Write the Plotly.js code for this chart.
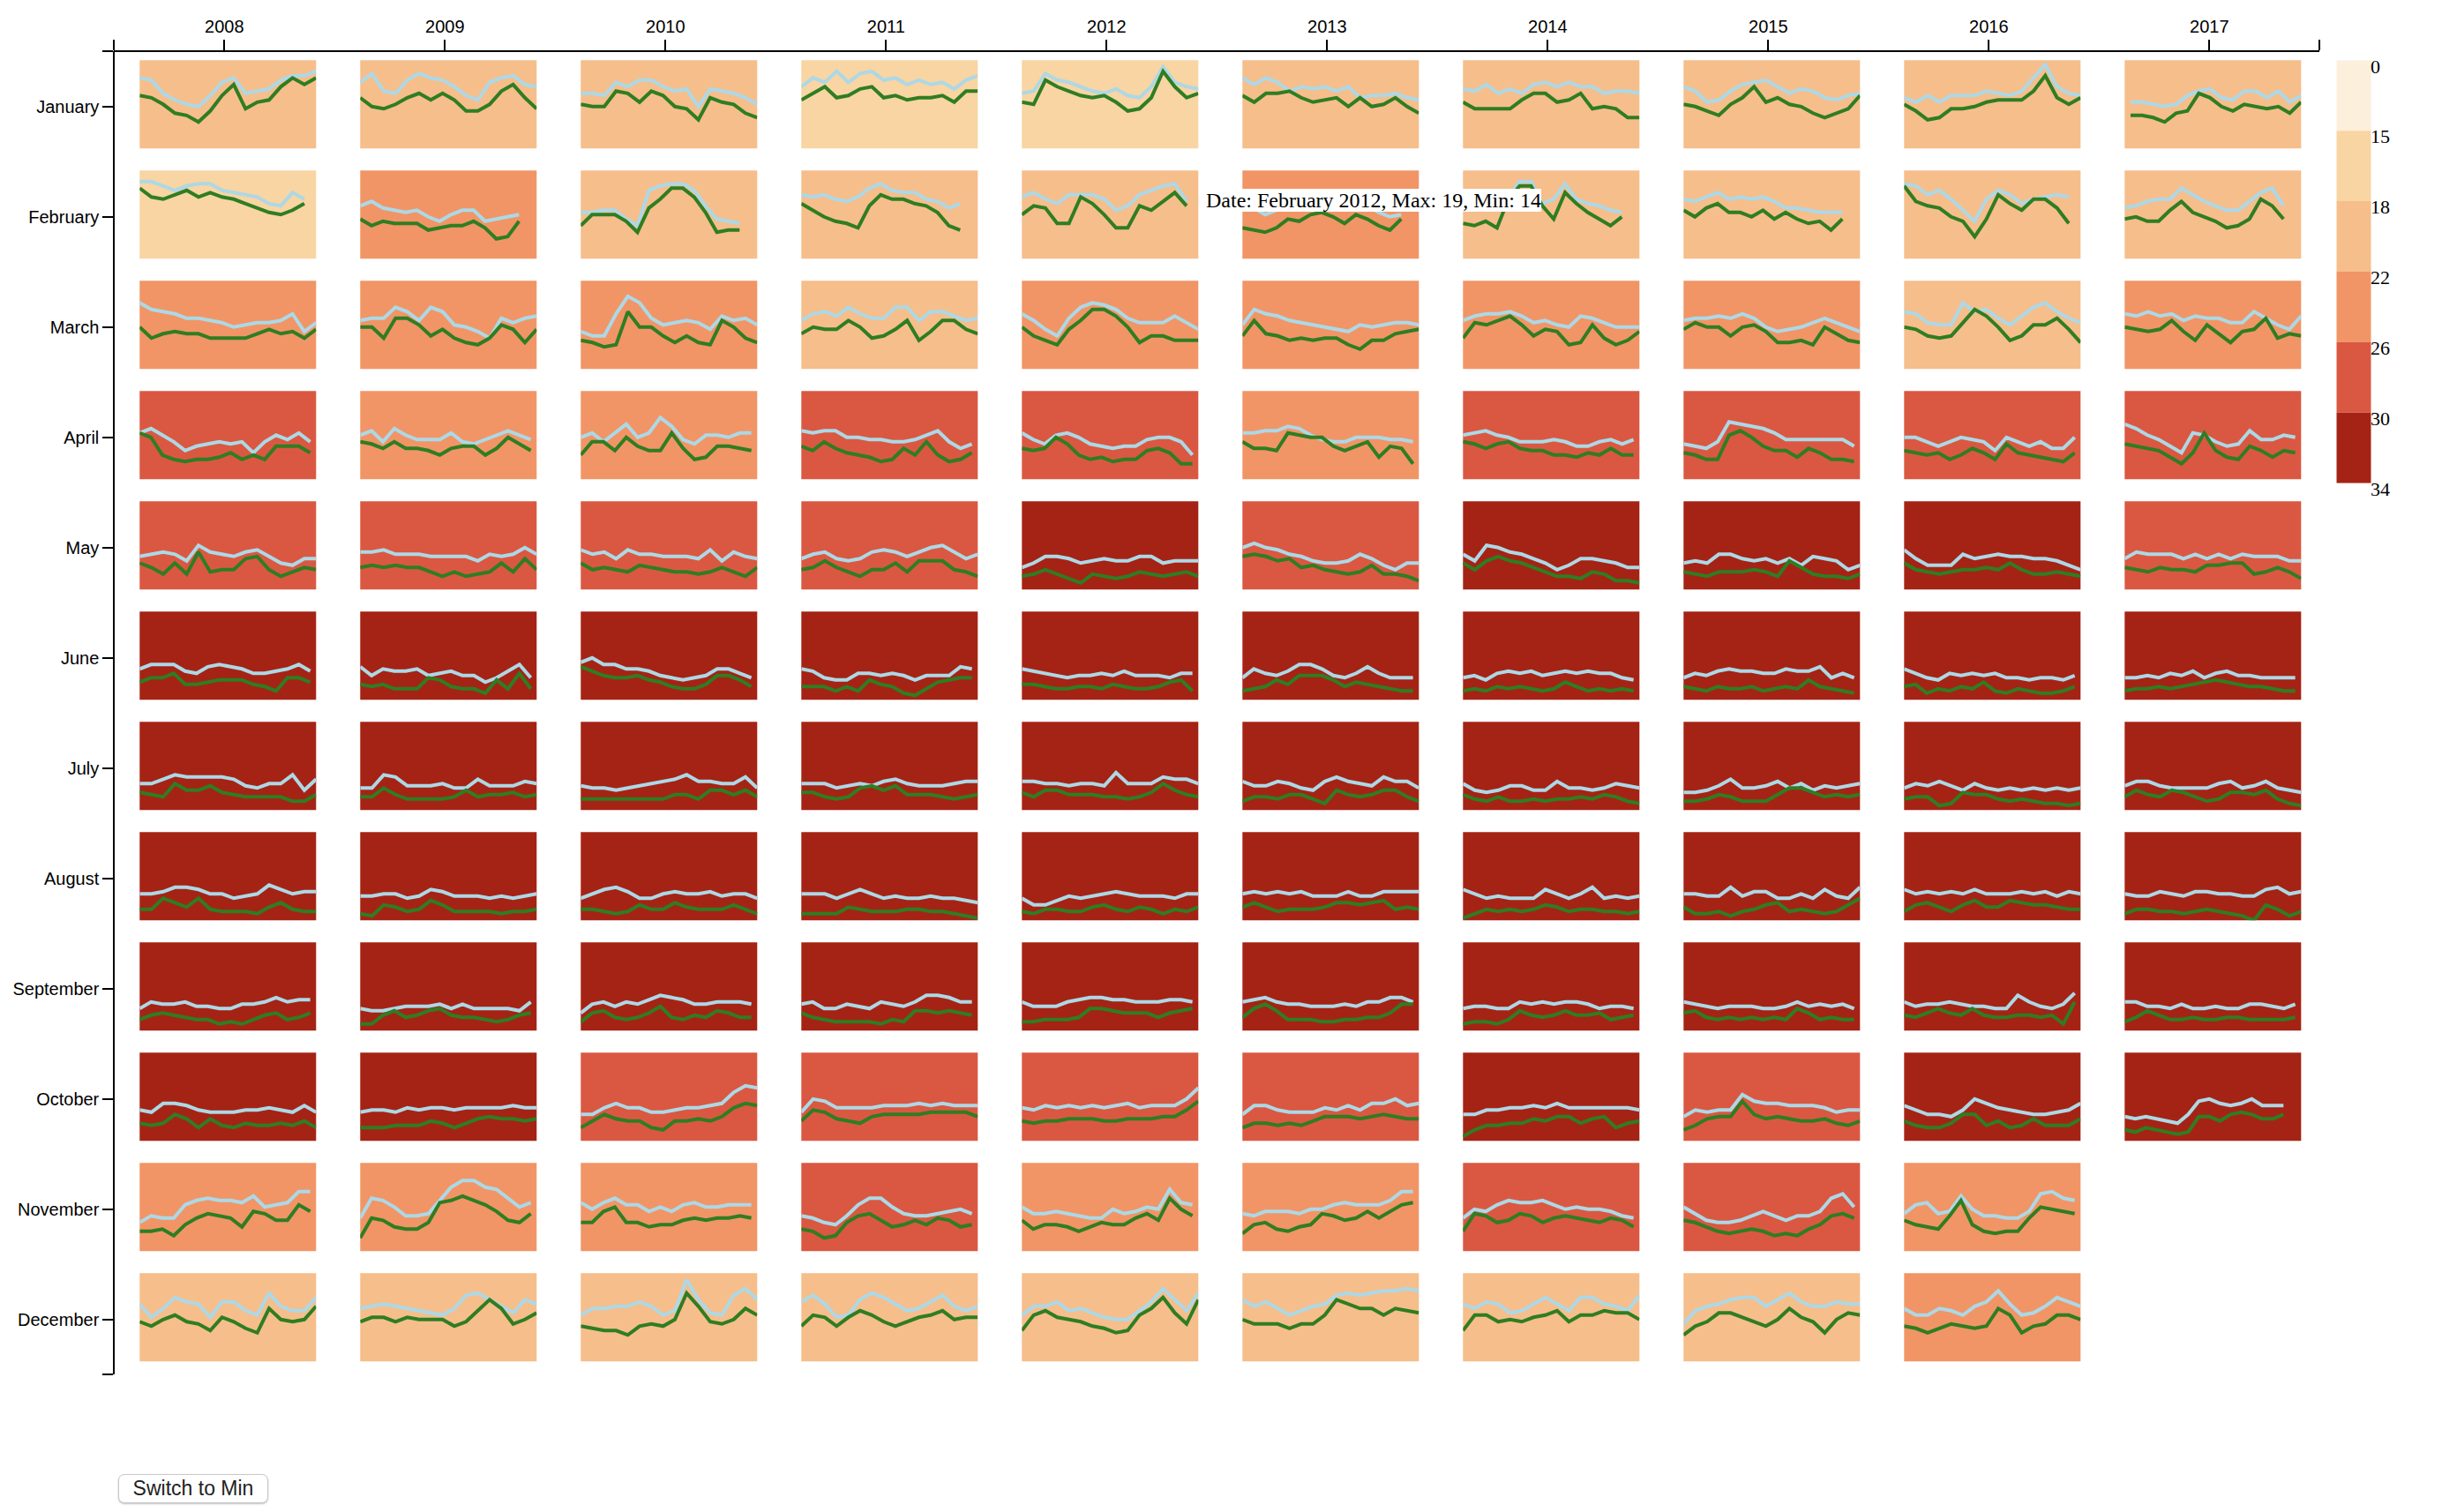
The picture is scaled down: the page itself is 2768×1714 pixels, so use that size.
<!DOCTYPE html>
<html>
<head>
<meta charset="utf-8">
<script src="https://cdn.plot.ly/plotly-3.0.1.min.js"></script>
<style>
html,body{margin:0;padding:0;background:#fff;}
#chart{width:2768px;height:1714px;}
#btn{position:absolute;left:134px;top:1671px;width:170px;height:33px;font:23px "Liberation Sans",Arial,sans-serif;color:#222;background:#fff;border:1px solid #c9c9c9;border-radius:7px;box-shadow:0 1px 2px rgba(0,0,0,0.25);padding:0;cursor:pointer;}
</style>
</head>
<body>
<div id="chart"></div>
<button id="btn">Switch to Min</button>
<script>
// ---------------- DATA ----------------
const years = [2008, 2009, 2010, 2011, 2012, 2013, 2014, 2015, 2016, 2017];
const months = ['January','February','March','April','May','June','July','August','September','October','November','December'];
const thresholds = [0, 15, 18, 22, 26, 30, 34];
const classColors = ['#fcefdb', '#f8d5a2', '#f6be8b', '#f19566', '#da5841', '#a52314'];

// monthly averages (per year, Jan..Dec) used for the cell colour and the tooltip
const monthlyMax = [
  [19,17,24,27,29,31,32,32,31,30,25,21],
  [19,23,23,25,29,32,32,32,32,30,25,20],
  [20,21,23,25,28,31,32,32,31,28,24,20],
  [17,20,21,26,29,32,32,33,31,28,26,20],
  [17,19,23,27,31,31,32,32,31,29,24,20],
  [20,23,24,25,29,32,32,31,31,28,24,19],
  [19,20,23,27,31,32,32,32,32,30,26,20],
  [19,21,24,28,31,33,32,32,31,29,27,21],
  [19,19,21,27,30,32,33,31,31,30,24,23],
  [21,21,23,27,29,31,32,32,32,30,null,null]
];
const monthlyMin = [
  [15,12,19,22,25,27,27,27,27,25,20,15],
  [14,18,18,21,25,27,28,28,27,25,20,16],
  [15,16,18,21,24,26,28,27,27,23,19,15],
  [12,15,15,21,25,27,28,28,26,23,22,15],
  [14,14,18,22,26,27,28,28,27,24,20,16],
  [15,18,19,21,25,27,27,27,27,23,20,15],
  [15,15,18,22,26,28,28,28,27,25,21,15],
  [15,16,19,23,27,28,28,28,27,25,23,16],
  [14,14,17,23,26,28,29,28,27,26,20,18],
  [16,16,18,22,25,27,28,28,27,25,null,null]
];

// daily samples (every other day) of the daily minimum / maximum, per month
const dailyMin2008 = [
 [8,9,15,18,20,21,16,10,8,15,14,13,9,7,7,5],
 [5,5,7,9,7,6,6,9,10,11,12,15,16,10,13],
 [10,13,14,15,17,17,18,19,21,20,19,19,18,15,23,19],
 [19,17,20,23,27,25,24,23,24,23,28,23,20,22,19,23],
 [25,24,23,24,27,20,23,24,25,23,22,25,28,29,26,26],
 [26,24,24,24,27,28,25,24,25,26,28,28,27,26,24,27],
 [28,28,26,24,25,25,25,25,26,29,30,28,28,24,31,26],
 [28,28,27,25,25,26,28,28,30,29,28,24,26,28,27,27],
 [30,27,28,28,27,29,29,30,30,28,28,27,25,27,26,26],
 [26,27,23,23,24,26,27,27,27,26,26,25,26,27,24,27],
 [27,24,25,25,19,17,16,17,17,18,15,20,19,18,13,13],
 [14,20,16,11,13,14,20,13,13,17,19,9,15,17,17,11]
];
const dailyMax2008 = [
 [16,17,20,24,25,28,23,16,11,22,19,18,12,8,11,8],
 [8,12,13,11,9,12,10,12,13,15,17,19,20,18,15],
 [21,26,24,23,24,24,26,26,26,26,24,22,24,23,26,22],
 [19,21,29,31,32,31,31,30,28,31,29,31,25,25,25,28],
 [28,30,33,28,33,23,32,31,31,26,25,31,34,32,30,31],
 [32,30,30,28,33,33,32,31,31,31,33,34,36,30,30,32],
 [32,33,34,28,31,31,29,32,33,34,34,34,34,36,36,33],
 [35,35,30,32,34,30,35,36,36,36,37,34,32,35,36,36],
 [35,33,32,33,34,35,35,37,36,37,35,33,32,35,34,32],
 [32,33,32,28,30,34,30,33,34,32,33,33,32,33,31,34],
 [31,31,30,33,28,25,23,24,25,29,22,23,26,26,19,22],
 [22,24,21,19,22,23,26,20,22,25,27,16,21,22,21,15]
];
const dailyMin2009 = [
 [10,6,14,15,9,6,8,9,12,16,18,10,8,7,11,12],
 [16,14,17,18,19,18,21,23,20,18,18,23,22,21,20],
 [18,17,17,12,14,18,12,14,20,21,23,26,17,19,17,16],
 [20,18,23,17,20,22,22,22,19,23,24,22,20,18,20,22],
 [23,23,22,24,24,24,25,25,25,25,27,24,25,24,21,24],
 [25,29,26,27,27,26,29,28,27,29,29,32,30,27,24,30],
 [30,30,24,25,29,29,29,28,30,30,26,29,29,29,27,28],
 [29,29,28,28,30,29,26,27,29,29,29,30,29,30,29,28],
 [30,31,31,30,29,29,29,28,30,28,30,30,30,30,31,27],
 [27,26,26,27,25,26,25,25,26,25,25,25,25,24,25,25],
 [25,16,17,20,24,24,23,17,11,8,8,11,12,16,20,18],
 [16,15,14,15,16,17,18,19,16,10,9,12,15,18,12,14]
];
const dailyMax2009 = [
 [17,21,22,20,17,15,18,15,18,23,23,20,14,11,17,22],
 [22,25,23,24,24,24,27,26,25,25,23,26,31,30,23],
 [21,21,26,17,17,20,25,22,26,28,29,26,20,22,28,22],
 [23,24,26,23,26,26,27,29,26,25,25,29,26,21,24,27],
 [30,29,30,29,30,30,32,34,32,34,33,32,28,32,26,31],
 [33,34,33,35,35,35,30,31,34,35,35,37,31,35,28,35],
 [34,34,30,33,35,35,35,35,34,31,34,33,33,32,34,33],
 [37,38,33,34,36,35,31,33,36,36,36,36,37,36,36,35],
 [37,37,33,31,34,33,31,30,33,34,34,35,36,35,33,32],
 [34,34,34,33,33,33,31,32,34,32,30,29,30,30,31,30],
 [34,25,26,29,30,30,27,18,17,15,17,19,22,26,27,23],
 [22,20,20,22,20,21,21,21,24,22,17,12,16,23,21,18]
];
const dailyMin2010 = [
 [15,15,16,10,12,9,9,12,14,13,21,13,14,15,17,20],
 [19,19,18,18,22,25,9,7,6,6,9,16,22,23,24],
 [23,25,25,15,7,10,17,20,19,18,19,22,16,18,17,20],
 [21,19,23,19,15,21,19,12,16,22,24,20,20,21,19,19],
 [22,24,23,26,22,24,24,25,25,25,26,22,27,23,25,26],
 [23,21,24,24,26,26,27,29,30,31,30,29,26,26,28,30],
 [29,30,30,31,30,29,28,27,26,24,27,27,28,28,25,30],
 [30,28,26,25,27,30,30,28,27,28,28,27,29,28,28,30],
 [32,28,27,29,27,28,26,24,25,26,28,28,27,27,27,28],
 [28,28,25,23,25,25,27,27,26,25,25,24,23,18,15,16],
 [18,21,18,16,19,19,22,20,22,19,18,20,20,19,19,19],
 [19,16,16,15,15,13,15,19,17,3,12,18,19,10,7,12]
];
const dailyMax2010 = [
 [20,21,21,14,15,19,14,16,21,22,27,17,19,20,24,26],
 [25,20,20,20,23,28,17,13,8,8,12,19,28,27,27],
 [27,28,30,29,14,21,21,25,28,25,28,29,18,21,26,28],
 [29,23,23,27,21,25,27,27,19,26,31,30,25,25,26,27],
 [28,31,30,31,32,29,30,31,32,32,33,32,30,32,34,30],
 [25,27,29,30,30,29,31,32,34,35,35,33,29,29,31,34],
 [35,35,35,35,35,35,35,35,33,33,35,31,31,33,31,34],
 [35,35,36,37,36,33,35,35,32,34,35,35,35,33,35,37],
 [36,32,31,34,35,34,32,29,34,35,33,34,31,32,34,34],
 [34,31,28,30,31,31,34,35,31,31,30,31,29,25,23,24],
 [27,27,22,20,27,27,29,28,28,26,25,26,25,25,24,25],
 [24,25,26,26,28,24,23,24,21,9,15,22,23,21,16,19]
];
const dailyMin2011 = [
 [12,8,10,5,10,6,5,9,8,11,9,11,10,13,9,7],
 [11,12,11,13,14,12,8,6,9,10,10,13,14,17,15],
 [18,15,14,16,12,15,17,17,12,12,18,14,14,16,18,17],
 [18,19,18,18,21,21,22,22,23,23,22,20,18,23,26,24],
 [26,24,23,26,27,26,23,22,23,25,23,21,20,23,26,24],
 [26,27,30,31,31,28,28,29,28,29,31,29,29,29,25,26],
 [28,28,28,30,29,28,29,27,26,28,29,29,29,28,27,27],
 [28,28,28,30,28,26,28,30,29,30,30,29,30,30,31,32],
 [28,27,30,30,28,29,30,27,28,29,27,24,24,25,27,27],
 [27,21,22,25,25,25,25,24,24,24,23,24,23,24,24,24],
 [24,25,27,28,24,19,16,16,20,23,24,24,23,22,21,23],
 [13,10,14,20,19,12,9,11,14,17,16,13,10,15,17,15]
];
const dailyMax2011 = [
 [18,15,12,17,16,13,12,17,16,18,17,17,16,19,14,14],
 [15,18,21,23,24,26,16,11,13,13,15,16,19,25,27],
 [24,21,22,22,18,21,26,25,22,18,27,23,18,18,22,24],
 [25,27,23,26,28,29,30,32,31,26,29,23,29,32,31,28],
 [31,30,27,30,32,34,31,31,28,32,27,27,27,31,32,34],
 [34,34,34,36,34,36,31,33,34,37,38,35,32,31,30,30],
 [32,32,34,35,34,30,29,31,29,33,33,33,34,35,34,33],
 [37,37,37,37,34,35,36,36,36,35,35,36,36,37,38,39],
 [32,34,35,36,36,36,36,37,35,36,31,31,32,31,32,33],
 [31,26,27,30,31,32,29,28,28,28,28,27,27,27,27,29],
 [30,31,34,33,27,24,23,26,29,28,26,28,25,26,29,28],
 [24,19,20,24,20,17,19,22,24,22,20,19,17,21,20,20]
];
const dailyMin2012 = [
 [15,14,6,9,10,12,14,15,13,16,17,12,3,10,12,13],
 [12,10,13,15,11,11,11,13,18,16,11,9,7,6,14],
 [15,18,22,25,17,12,10,11,13,17,19,19,19,16,19,22],
 [19,22,24,20,19,21,24,25,26,25,25,22,21,21,23,29],
 [30,28,25,25,26,28,27,26,27,27,25,25,28,27,27,27],
 [26,27,28,29,30,29,29,28,29,27,29,29,29,30,28,28],
 [27,27,28,28,29,28,28,29,23,28,28,28,25,26,26,28],
 [30,33,33,31,29,30,29,28,27,28,29,29,29,30,28,28],
 [27,29,29,29,27,26,25,25,26,26,27,27,27,26,26,27],
 [25,26,24,25,24,25,24,25,24,23,25,24,24,24,21,16],
 [20,23,23,22,23,24,25,25,21,23,22,20,21,12,18,19],
 [19,15,15,13,17,16,18,20,21,21,17,13,7,12,17,9]
];
const dailyMax2012 = [
 [19,20,9,12,14,16,17,16,19,23,22,17,5,12,17,15],
 [20,16,17,24,24,12,15,20,26,26,16,18,14,10,16],
 [21,25,27,29,22,18,13,13,16,21,28,25,25,27,27,27],
 [26,27,26,21,24,29,31,30,32,31,31,27,26,28,33,33],
 [34,33,31,33,35,37,33,34,35,34,32,33,34,33,32,34],
 [33,33,34,35,35,34,34,35,33,34,35,35,34,32,31,36],
 [32,34,31,31,33,33,33,34,34,35,34,32,28,31,33,34],
 [36,37,35,35,36,36,34,33,35,36,34,35,37,35,36,34],
 [36,36,35,35,35,34,30,30,31,32,32,32,34,32,31,30],
 [31,32,31,31,30,30,30,31,31,30,30,30,29,29,26,22],
 [26,30,28,28,29,31,29,27,28,28,25,23,26,16,21,24],
 [26,19,17,20,21,22,24,25,27,26,19,16,11,18,23,12]
];
const dailyMin2013 = [
 [8,11,8,10,14,12,13,12,14,12,17,16,16,15,17,18],
 [16,17,20,18,11,15,16,14,15,15,14,16,19,21,20],
 [20,13,15,16,18,19,20,21,22,23,20,21,20,19,19,20],
 [19,19,18,18,16,17,20,22,23,23,21,21,21,22,22,23],
 [21,19,21,22,24,25,27,28,28,27,24,26,29,31,28,28],
 [30,26,28,29,27,24,24,26,29,30,28,25,28,30,30,30],
 [27,29,29,27,28,30,31,27,25,27,28,29,25,27,27,30],
 [28,27,28,27,28,27,29,29,29,27,29,29,27,27,27,27],
 [27,26,25,27,28,28,29,29,29,28,29,27,27,25,25,27],
 [28,24,24,26,27,27,27,25,26,24,26,23,23,21,24,23],
 [23,24,22,22,22,23,21,21,19,18,19,19,19,17,13,13],
 [12,15,13,16,19,17,15,14,10,9,10,9,8,8,7,8]
];
const dailyMax2013 = [
 [16,19,15,15,14,17,19,18,17,21,17,21,20,17,21,24],
 [26,27,28,26,22,23,20,19,21,24,20,22,25,27,22],
 [25,18,24,25,27,26,27,26,26,29,31,27,27,24,23,22],
 [23,26,26,27,19,20,21,21,25,27,25,23,30,25,26,33],
 [25,24,25,27,26,30,29,31,32,33,32,29,33,33,34,36],
 [36,35,34,31,33,29,29,29,31,34,32,33,34,35,36,36],
 [36,34,34,35,33,33,35,37,31,33,34,33,31,31,34,36],
 [34,32,34,36,35,35,35,34,32,32,33,32,31,35,34,35],
 [34,30,28,31,35,35,35,36,36,35,35,34,34,32,28,28],
 [34,32,32,33,32,33,31,29,29,29,30,29,28,29,30,30],
 [32,28,27,30,31,29,28,23,24,26,25,22,25,22,19,18],
 [21,23,23,23,25,23,23,19,12,14,16,16,19,16,17,18]
];
const dailyMin2014 = [
 [13,14,11,15,13,15,11,10,12,10,12,12,15,14,14,15],
 [17,17,17,17,12,5,5,15,13,6,13,15,16,18,19],
 [18,16,15,15,14,16,19,18,20,21,16,17,19,21,21,21],
 [20,19,18,20,21,23,23,23,22,23,25,25,23,22,24,22],
 [24,27,20,21,23,24,26,28,31,29,26,26,27,28,30,30],
 [30,29,31,28,27,28,27,29,28,27,28,27,28,28,30,31],
 [28,31,32,31,29,29,31,31,27,30,30,31,30,28,29,30],
 [26,28,30,29,30,30,30,26,28,30,28,25,30,29,30,29],
 [30,29,29,30,30,27,28,27,28,27,27,28,30,29,29,30],
 [28,28,26,26,25,25,24,25,23,25,25,25,25,25,25,26],
 [25,21,22,19,17,18,18,17,19,21,20,21,21,22,24,25],
 [14,16,13,14,18,17,14,11,14,17,11,11,14,15,17,10]
];
const dailyMax2014 = [
 [19,22,22,22,22,18,15,15,19,18,15,22,21,22,26,26],
 [24,25,23,26,13,7,7,16,22,10,15,19,22,25,21],
 [26,19,20,18,16,20,25,22,23,29,28,20,26,29,27,23],
 [23,24,26,24,23,26,27,27,29,29,30,28,29,26,29,29],
 [28,31,27,25,27,28,30,32,34,34,35,32,33,36,36,37],
 [36,35,36,34,35,34,35,36,35,32,34,36,35,36,35,36],
 [33,35,36,34,36,36,35,36,35,35,34,35,33,34,36,37],
 [39,37,35,36,35,36,35,33,34,36,35,35,36,36,37,36],
 [37,36,36,37,35,31,33,34,33,31,33,33,32,35,34,33],
 [38,35,33,33,32,32,30,31,29,29,32,30,29,34,32,31],
 [31,23,24,27,26,23,24,27,25,24,25,26,27,25,26,29],
 [26,19,19,22,21,22,20,19,17,22,19,19,17,18,18,21]
];
const dailyMin2015 = [
 [12,14,19,18,14,11,10,9,12,15,13,14,17,18,16,15],
 [13,14,12,10,13,12,13,12,14,17,17,18,19,19,19],
 [18,17,17,16,17,15,17,21,23,22,21,19,17,19,21,23],
 [24,25,26,23,14,15,16,17,19,22,22,22,22,22,22,25],
 [28,27,28,24,24,26,27,26,28,26,29,25,26,27,31,29],
 [30,28,29,27,26,27,27,28,28,26,27,27,25,30,28,30],
 [32,32,31,29,26,30,30,29,27,30,28,31,29,30,29,28],
 [28,28,29,29,25,29,27,27,30,30,28,30,26,29,30,25],
 [27,28,29,30,29,29,29,30,30,29,27,29,28,29,28,30],
 [29,26,27,26,26,19,22,23,23,24,24,24,25,27,26,26],
 [20,23,26,27,27,26,24,22,24,26,24,24,22,16,14,20],
 [23,17,15,14,12,11,11,15,12,9,13,15,15,13,14,14]
];
const dailyMax2015 = [
 [20,21,23,25,20,17,12,19,17,20,21,24,26,24,22,16],
 [18,21,17,15,19,19,21,18,22,19,22,24,23,27,22],
 [22,19,21,21,25,21,20,23,28,28,27,29,21,24,27,28],
 [28,29,31,31,20,18,21,25,27,27,30,26,28,31,31,32],
 [32,33,34,32,32,32,31,32,34,27,30,33,34,34,35,33],
 [34,35,36,34,35,35,34,36,35,34,35,31,34,35,36,37],
 [36,36,35,33,34,36,36,36,33,30,30,32,34,33,34,33],
 [34,37,37,36,38,36,35,33,32,36,35,36,37,36,33,30],
 [32,31,34,35,34,35,34,35,34,35,30,32,35,34,35,35],
 [35,33,30,29,29,22,28,30,29,30,31,31,30,32,33,31],
 [26,27,29,31,32,31,30,31,33,32,33,30,28,24,23,25],
 [28,24,22,18,18,20,22,24,21,16,20,22,27,21,18,19]
];
const dailyMin2016 = [
 [17,19,16,19,16,16,16,14,15,16,14,8,2,12,15,16],
 [6,7,11,9,13,18,23,13,9,11,15,13,12,11,12],
 [14,15,19,20,20,10,14,13,17,20,16,12,10,14,17,19],
 [21,21,23,25,23,21,22,23,27,21,23,25,23,26,26,21],
 [22,26,29,29,29,24,26,25,24,25,25,26,26,27,29,31],
 [26,28,30,31,28,29,28,29,28,30,30,31,30,30,31,29],
 [30,28,29,27,29,31,28,30,31,30,31,30,31,30,31,30],
 [26,28,27,28,27,28,26,28,28,28,27,28,27,29,27,28],
 [27,29,28,28,27,28,29,29,30,30,24,27,29,30,28,23],
 [24,26,28,28,29,26,21,23,25,26,27,28,28,27,26,23],
 [23,19,18,23,22,15,21,24,24,25,25,22,14,13,16,17],
 [16,19,19,16,17,19,15,13,8,14,19,18,15,11,13,15]
];
const dailyMax2016 = [
 [20,23,27,26,22,22,21,19,18,18,18,14,7,17,20,17],
 [7,14,16,17,21,23,30,22,11,15,18,13,13,17,24],
 [21,22,25,26,25,19,13,16,21,27,25,20,20,17,22,28],
 [27,28,29,28,31,29,26,28,31,24,28,29,30,31,32,28],
 [28,31,32,33,32,31,31,30,31,28,31,33,33,32,33,34],
 [34,33,37,35,36,34,35,32,36,37,35,36,37,37,36,34],
 [35,34,34,38,37,32,33,33,35,36,35,36,37,37,38,37],
 [36,33,32,34,36,33,31,34,34,31,32,33,33,34,35,35],
 [33,34,32,30,32,33,30,33,34,34,33,33,34,33,37,27],
 [31,33,34,34,32,28,28,33,31,34,33,30,33,33,33,30],
 [26,28,29,30,24,17,28,31,32,31,31,25,20,21,22,23],
 [24,25,27,25,23,24,25,24,16,19,27,24,23,19,19,21]
];
const dailyMin2017 = [
 [19,19,20,21,20,16,14,13,17,18,14,14,17,14,19,16],
 [17,16,14,13,13,8,11,14,16,18,18,14,10,8,16],
 [15,16,14,16,15,18,16,17,17,19,19,14,17,20,22,16],
 [15,17,20,22,25,28,19,20,23,25,24,18,22,22,20,21],
 [26,23,24,24,24,26,24,26,24,26,24,25,25,25,27,27],
 [30,30,29,30,28,29,27,30,28,27,29,29,30,30,30,30],
 [29,27,27,29,30,30,30,30,28,27,30,29,27,30,31,32],
 [28,29,29,27,28,29,27,27,28,28,29,29,26,25,28,27],
 [27,27,29,29,30,28,30,30,29,30,30,28,28,29,30,28],
 [29,30,29,30,31,32,28,22,21,23,24,23,21,24,24,24]
];
const dailyMax2017 = [
 [25,25,26,28,24,23,15,17,21,23,20,21,22,21,24,19],
 [22,21,23,23,18,14,19,21,23,26,25,22,13,16,22],
 [21,22,23,22,18,23,27,20,24,28,23,22,17,26,24,25],
 [24,25,26,27,30,33,28,19,27,30,31,25,27,30,27,28],
 [30,31,32,30,31,31,32,29,29,28,28,33,32,30,32,35],
 [36,35,35,34,35,34,33,32,31,32,33,34,34,35,36,36],
 [34,31,33,34,31,32,34,36,35,32,32,33,31,35,37,38],
 [37,35,35,36,36,37,36,35,36,37,38,40,33,35,38,36],
 [36,34,31,33,35,35,34,35,35,34,34,35,35,35,35,34],
 [35,36,34,35,36,37,36,29,29,31,28,27,28,30,30,28]
];
const dailyMin = [dailyMin2008, dailyMin2009, dailyMin2010, dailyMin2011, dailyMin2012, dailyMin2013, dailyMin2014, dailyMin2015, dailyMin2016, dailyMin2017];
const dailyMax = [dailyMax2008, dailyMax2009, dailyMax2010, dailyMax2011, dailyMax2012, dailyMax2013, dailyMax2014, dailyMax2015, dailyMax2016, dailyMax2017];
// months whose record does not cover the whole month: [year, monthIndex, firstDay, lastDay]
const partialMonths = [[2017, 0, 2, 31], [2017, 9, 1, 28]];
const tooltipCell = [2012, 1];

// ---------------- LAYOUT ----------------
const W = 2768, H = 1714;
const frame = {left: 129.3, right: 2629.3, top: 58.3, bottom: 1558.3};
const colStep = (frame.right - frame.left) / years.length;
const rowStep = (frame.bottom - frame.top) / months.length;
const cellW = colStep * 0.8, cellH = rowStep * 0.8;
const cellOffX = colStep * 0.116, cellOffY = rowStep * 0.08;
const legendBox = {left: 2648.3, right: 2687.7, top: 68.3, bottom: 547.7};
const MIN_COLOR = '#add8e6', MAX_COLOR = '#2f7d22';
const axisFont = {family: 'Liberation Sans, Arial, sans-serif', size: 20, color: '#000'};
const legendFont = {family: 'Liberation Serif, Times New Roman, serif', size: 22, color: '#000'};
const tipFont = {family: 'Liberation Serif, Times New Roman, serif', size: 24, color: '#000'};

function colorFor(v) {
  let c = 0;
  for (let i = 1; i < thresholds.length - 1; i++) if (v >= thresholds[i]) c++;
  return classColors[c];
}
function dayRange(year, m) {
  const p = partialMonths.find(q => q[0] === year && q[1] === m);
  return p ? [p[2], p[3]] : [1, new Date(year, m + 1, 0).getDate()];
}

const traces = [];
const layout = {
  width: W, height: H, autosize: false,
  margin: {l: 0, r: 0, t: 0, b: 0, pad: 0},
  paper_bgcolor: '#fff', plot_bgcolor: 'rgba(0,0,0,0)',
  showlegend: false, shapes: [], annotations: []
};

// frame axes (years on top, months on the left)
traces.push({type: 'scatter', mode: 'markers', x: [0], y: [0], marker: {opacity: 0}, hoverinfo: 'skip', xaxis: 'x', yaxis: 'y'});
const baseAxis = {
  ticks: 'outside', ticklen: 12, tickwidth: 2, tickcolor: '#000',
  showline: true, linecolor: '#000', linewidth: 2,
  showgrid: false, zeroline: false, fixedrange: true,
  tickfont: axisFont, tickmode: 'array', anchor: 'free'
};
layout.xaxis = Object.assign({}, baseAxis, {
  domain: [frame.left / W, frame.right / W], range: [-0.5, years.length - 0.5],
  side: 'top', position: 1 - frame.top / H,
  tickvals: [-0.5].concat(years.map((_, i) => i), [years.length - 0.5]),
  ticktext: [''].concat(years.map(String), [''])
});
layout.yaxis = Object.assign({}, baseAxis, {
  domain: [1 - frame.bottom / H, 1 - frame.top / H], range: [months.length - 0.5, -0.5],
  side: 'left', position: frame.left / W,
  tickvals: [-0.5].concat(months.map((_, i) => i), [months.length - 0.5]),
  ticktext: [''].concat(months, [''])
});

// cells
let n = 2;
const cellShapes = [];
years.forEach((yr, yi) => {
  months.forEach((mname, mi) => {
    const mx = dailyMax[yi][mi];
    if (!mx) return;
    const mn = dailyMin[yi][mi];
    const [d0, d1] = dayRange(yr, mi);
    const days = mx.map((_, i) => d0 + i * (d1 - d0) / (mx.length - 1));
    const l = frame.left + yi * colStep + cellOffX;
    const t = frame.top + mi * rowStep + cellOffY;
    layout['xaxis' + n] = {domain: [l / W, (l + cellW) / W], range: [1, 31], visible: false, fixedrange: true, anchor: 'y' + n};
    layout['yaxis' + n] = {domain: [1 - (t + cellH) / H, 1 - t / H], range: [40, 0], visible: false, fixedrange: true, anchor: 'x' + n};
    layout.shapes.push({type: 'rect', xref: 'x' + n + ' domain', yref: 'y' + n + ' domain', x0: 0, x1: 1, y0: 0, y1: 1,
      fillcolor: colorFor(monthlyMax[yi][mi]), line: {width: 0}, layer: 'below'});
    cellShapes.push({yi, mi});
    traces.push({type: 'scatter', mode: 'lines', x: days, y: mn, xaxis: 'x' + n, yaxis: 'y' + n,
      line: {color: MIN_COLOR, width: 4}, hoverinfo: 'skip'});
    traces.push({type: 'scatter', mode: 'lines', x: days, y: mx, xaxis: 'x' + n, yaxis: 'y' + n,
      line: {color: MAX_COLOR, width: 4}, hoverinfo: 'skip'});
    n++;
  });
});

// colour legend
const lx = 'x' + n, ly = 'y' + n;
layout['xaxis' + n] = {domain: [legendBox.left / W, legendBox.right / W], range: [-0.5, 0.5], visible: false, fixedrange: true, anchor: ly};
layout['yaxis' + n] = {domain: [1 - legendBox.bottom / H, 1 - legendBox.top / H], range: [classColors.length, 0], visible: false, fixedrange: true, anchor: lx};
traces.push({type: 'bar', x: classColors.map(() => 0), y: classColors.map(() => 1), base: classColors.map((_, i) => i),
  width: classColors.map(() => 1), marker: {color: classColors, line: {width: 0}}, xaxis: lx, yaxis: ly, hoverinfo: 'skip'});
const blockH = (legendBox.bottom - legendBox.top) / classColors.length;
thresholds.forEach((th, i) => {
  layout.annotations.push({xref: 'paper', yref: 'paper', x: (legendBox.right - 1) / W,
    y: 1 - (legendBox.top + i * blockH + 6.7) / H, xanchor: 'left', yanchor: 'middle',
    text: String(th), showarrow: false, font: legendFont, borderpad: 0, borderwidth: 0});
});

// tooltip
const ty = years.indexOf(tooltipCell[0]), tm = tooltipCell[1];
layout.annotations.push({
  xref: 'paper', yref: 'paper', x: 1366.7 / W, y: 1 - 214 / H, xanchor: 'left', yanchor: 'top',
  text: 'Date: ' + months[tm] + ' ' + tooltipCell[0] + ', Max: ' + monthlyMax[ty][tm] + ', Min: ' + monthlyMin[ty][tm],
  showarrow: false, bgcolor: '#fff', borderpad: 0, borderwidth: 0, font: tipFont
});

Plotly.newPlot('chart', traces, layout, {staticPlot: true, displayModeBar: false});

// button: toggle colouring between monthly max and monthly min
let useMax = true;
document.getElementById('btn').addEventListener('click', function () {
  useMax = !useMax;
  const src = useMax ? monthlyMax : monthlyMin;
  const upd = {};
  cellShapes.forEach((c, i) => { upd['shapes[' + i + '].fillcolor'] = colorFor(src[c.yi][c.mi]); });
  Plotly.relayout('chart', upd);
  this.textContent = useMax ? 'Switch to Min' : 'Switch to Max';
});
</script>
</body>
</html>
